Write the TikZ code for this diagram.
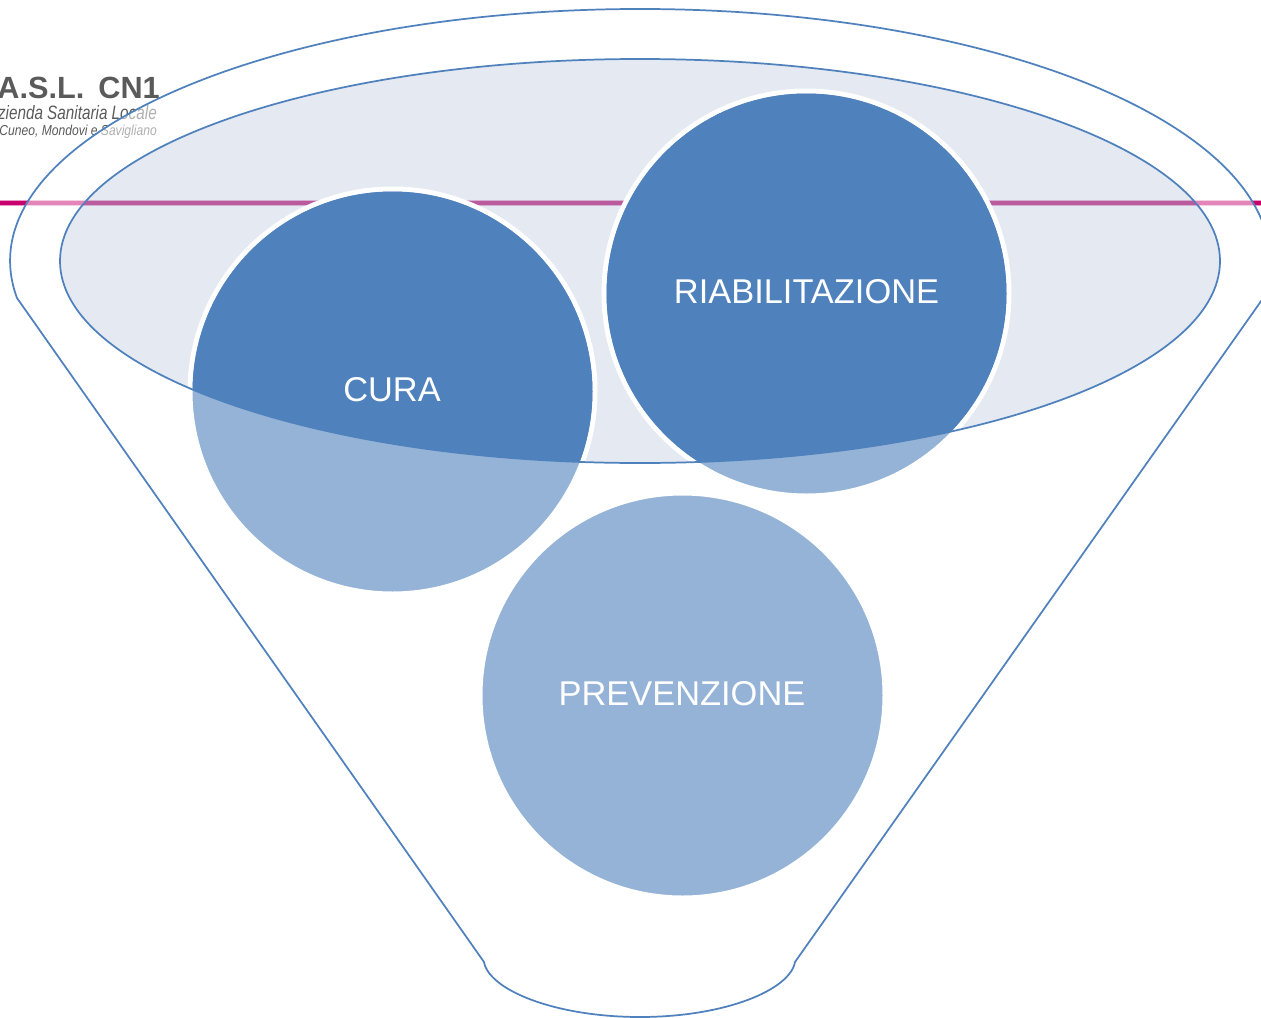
\documentclass[tikz,border=0pt]{standalone}
\usepackage{fontspec}
\setmainfont{Liberation Sans}
\definecolor{funnelblue}{HTML}{4F81BD}
\definecolor{darkblue}{HTML}{4F81BD}
\definecolor{lightblue}{HTML}{95B3D7}
\definecolor{paleblue}{HTML}{E4E9F2}
\definecolor{barbase}{HTML}{C8006E}
\definecolor{barinner}{HTML}{BC5A9E}
\definecolor{logogrey}{HTML}{5A5A5A}
\tikzset{
  disc/.style={circle,draw=white,line width=3.75pt,fill=lightblue,minimum size=303.75pt,inner sep=0pt,outer sep=0pt},
  disclabel/.style={text=white,font=\fontsize{25.8pt}{30pt}\selectfont,inner sep=0pt},
  outline/.style={draw=funnelblue,line width=1.3pt},
  logoline/.style={text=logogrey,inner sep=0pt,anchor=east,transform shape}
}
\begin{document}
\begin{tikzpicture}[x=0.75pt,y=-0.75pt]
\useasboundingbox (0,0) rectangle (1261,1018);
\clip (0,0) rectangle (1261,1018);
% logo
\node[logoline] (logoa) at (160,88) {\fontsize{23pt}{26pt}\selectfont\bfseries A.S.L.\hspace{10.5pt}CN1};
\node[logoline,xscale=.79] (logob) at (157,113) {\fontsize{14.5pt}{16pt}\selectfont\itshape zienda Sanitaria Locale};
\node[logoline,xscale=.84] (logoc) at (157,131.5) {\fontsize{10.8pt}{12pt}\selectfont\itshape Cuneo, Mondovi e Savigliano};
% bar
\coordinate (barL) at (0,203.3);
\coordinate (barR) at (1261,203.3);
\draw[barbase!40,line width=4.6pt] (barL) -- (barR);
\draw[barbase,line width=3pt] (barL) -- (barR);
% funnel: translucent white, which pales the bar and the logo behind it
\path[fill=white,fill opacity=.52,outline,draw opacity=1]
  (17,298) arc[start angle=188.45,end angle=-8.45,x radius=472.5pt,y radius=189pt]
  -- (795,962)
  .. controls (790,990) and (725,1017) .. (640,1017)
  .. controls (555,1017) and (489,990) .. (484,962)
  -- cycle;
% inner ellipse
\fill[paleblue] (640,261) ellipse [x radius=435pt,y radius=151.5pt];
\begin{scope}
  \clip (640,261) ellipse [x radius=435pt,y radius=151.5pt];
  \draw[barinner!40!paleblue,line width=4.6pt] (barL) -- (barR);
  \draw[barinner,line width=3pt] (barL) -- (barR);
\end{scope}
% discs
\node[disc] (cura) at (392.5,391.5) {};
\node[disc] (riab) at (806.5,293.5) {};
\node[disc] (prev) at (682.5,695.5) {};
% darker part of the discs inside the ellipse
\begin{scope}
  \clip (640,261) ellipse [x radius=435pt,y radius=151.5pt];
  \fill[darkblue] (cura.center) circle [radius=150pt];
  \fill[darkblue] (riab.center) circle [radius=150pt];
\end{scope}
\draw[outline] (640,261) ellipse [x radius=435pt,y radius=151.5pt];
% labels
\node[disclabel] at (392,390) {CURA};
\node[disclabel] at (806.5,292) {RIABILITAZIONE};
\node[disclabel] at (682,694) {PREVENZIONE};
\end{tikzpicture}
\end{document}
